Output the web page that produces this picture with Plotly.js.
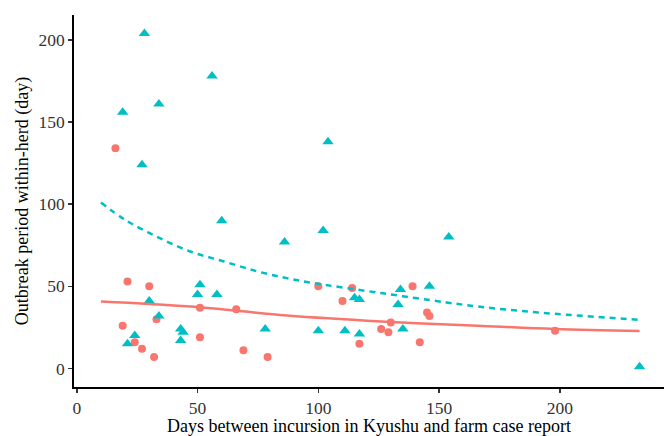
<!DOCTYPE html>
<html><head><meta charset="utf-8">
<script src="https://cdn.plot.ly/plotly-3.0.1.min.js"></script>
<style>html,body{margin:0;padding:0;background:#fff}#chart{width:664px;height:436px}</style>
</head><body><div id="chart"></div>
<script>
// Group 1 (red circles)
const redX = [16,21,30,19,33,24,27,32,51,51,66,69,79,100,110,114,117,126,129,130,139,142,145,146,198];
const redY = [134,53,50,26,30,16,12,7,37,19,36,11,7,50,41,49,15,24,22,28,50,16,34,32,23];
// Group 2 (teal triangles)
const tealX = [28,56,34,19,27,104,60,102,86,51,50,58,30,34,43,44,43,24,21,78,100,154,146,134,115,117,133,135,111,117,233];
const tealY = [204,178,161,156,124,138,90,84,77,51,45,45,41,32,24,22,17,20,15,24,23,80,50,48,43,42,39,24,23,21,1];
// Fitted curves
const fitTealX = [10,20,33,47,61,75,87,98,126,153,166,191,233];
const fitTealY = [101,90.5,80.3,71.2,65.1,59.0,55.0,52.0,45.9,40.2,37.7,34.1,29.6];
const fitRedX = [10,47,87,126,166,198,233];
const fitRedY = [40.8,37.7,32.2,28.6,26.0,24.0,22.8];
const xTicks = [0,50,100,150,200];
const yTicks = [0,50,100,150,200];

const RED = '#F8766D', TEAL = '#00BFC4';
const FAM = 'Liberation Serif';
const traces = [
  {x: redX, y: redY, type: 'scatter', mode: 'markers', marker: {symbol: 'circle', size: 8, color: RED}},
  {x: tealX, y: tealY, type: 'scatter', mode: 'markers', marker: {symbol: 'triangle-up', size: 10, color: TEAL}},
  {x: fitRedX, y: fitRedY, type: 'scatter', mode: 'lines', line: {color: RED, width: 2.5, shape: 'spline'}},
  {x: fitTealX, y: fitTealY, type: 'scatter', mode: 'lines', line: {color: TEAL, width: 2.5, dash: '6px,5px', shape: 'spline'}}
];
const layout = {
  width: 664, height: 436,
  margin: {l: 74, r: 0, t: 15, b: 49},
  paper_bgcolor: '#fff', plot_bgcolor: '#fff',
  showlegend: false,
  font: {family: FAM, size: 18, color: '#000'},
  xaxis: {
    range: [-1.15, 243.1], tickvals: xTicks,
    showgrid: false, zeroline: false, showline: true, linecolor: '#000', linewidth: 1.8,
    ticks: 'outside', ticklen: 4, tickwidth: 1.5, tickcolor: '#333',
    tickfont: {family: FAM, size: 17.5, color: '#333'},
    title: {text: 'Days between incursion in Kyushu and farm case report', font: {family: FAM, size: 18, color: '#000'}, standoff: 4}
  },
  yaxis: {
    range: [-11.3, 215.2], tickvals: yTicks,
    showgrid: false, zeroline: false, showline: true, linecolor: '#000', linewidth: 1.8,
    ticks: 'outside', ticklen: 4, tickwidth: 1.5, tickcolor: '#333',
    tickfont: {family: FAM, size: 17.5, color: '#333'},
    title: {text: 'Outbreak period within-herd (day)', font: {family: FAM, size: 18, color: '#000'}, standoff: 5}
  }
};
Plotly.newPlot('chart', traces, layout, {displayModeBar: false, staticPlot: true});
</script></body></html>
